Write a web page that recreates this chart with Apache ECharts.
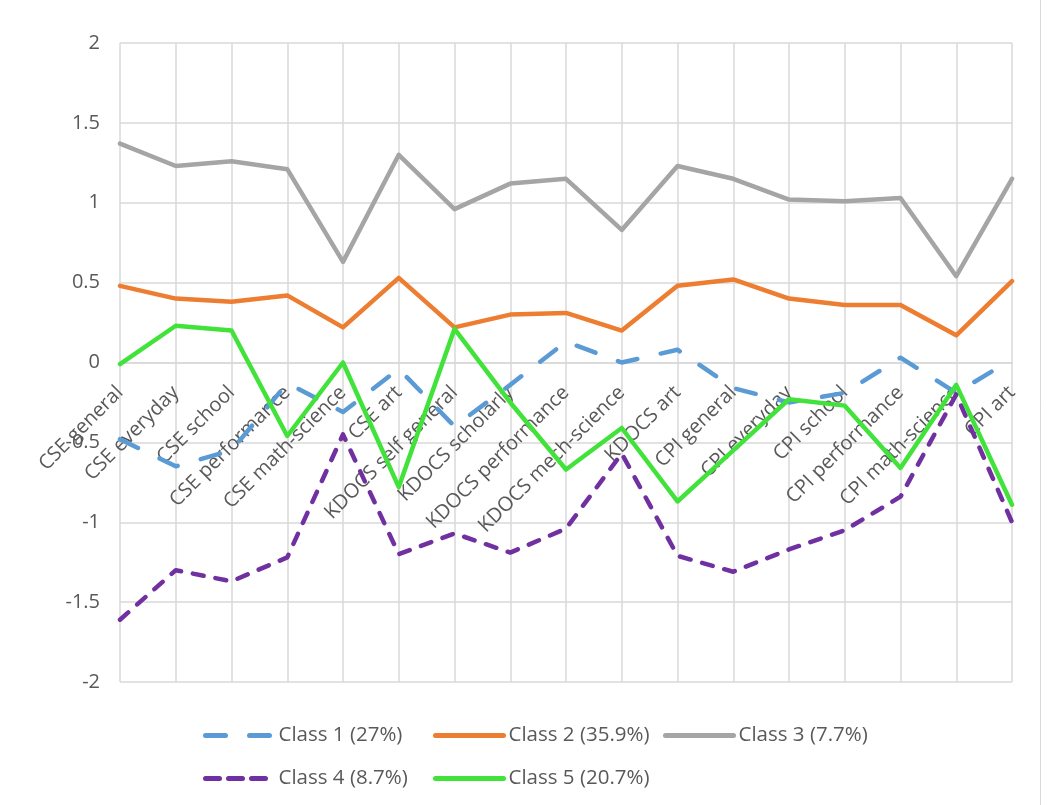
<!DOCTYPE html>
<html>
<head>
<meta charset="utf-8">
<script src="https://cdn.jsdelivr.net/npm/echarts@6/dist/echarts.min.js"></script>
<style>
html,body{margin:0;padding:0;background:#fff;}
#chart{width:1047px;height:805px;}
</style>
</head>
<body>
<div id="chart"></div>
<script>
const categories = ['CSE general','CSE everyday','CSE school','CSE performance','CSE math-science','CSE art','KDOCS self general','KDOCS scholarly','KDOCS performance','KDOCS mech-science','KDOCS art','CPI general','CPI everyday','CPI school','CPI performance','CPI math-science','CPI art'];
const seriesNames = ['Class 1 (27%)','Class 2 (35.9%)','Class 3 (7.7%)','Class 4 (8.7%)','Class 5 (20.7%)'];
const class1 = [-0.48,-0.65,-0.55,-0.13,-0.31,-0.04,-0.40,-0.14,0.13,0.00,0.08,-0.16,-0.25,-0.19,0.03,-0.19,0.02];
const class2 = [0.48,0.40,0.38,0.42,0.22,0.53,0.22,0.30,0.31,0.20,0.48,0.52,0.40,0.36,0.36,0.17,0.51];
const class3 = [1.37,1.23,1.26,1.21,0.63,1.30,0.96,1.12,1.15,0.83,1.23,1.15,1.02,1.01,1.03,0.54,1.15];
const class4 = [-1.61,-1.30,-1.37,-1.22,-0.45,-1.20,-1.07,-1.19,-1.04,-0.57,-1.21,-1.31,-1.17,-1.05,-0.84,-0.20,-1.00];
const class5 = [-0.01,0.23,0.20,-0.46,0.00,-0.78,0.21,-0.25,-0.67,-0.41,-0.87,-0.55,-0.23,-0.27,-0.66,-0.14,-0.89];

const colors = ['#5B9BD5','#ED7D31','#A5A5A5','#7030A0','#41E33A'];
const dashes = [[20,24],'solid','solid',[11,12],'solid'];
const legendDashes = [[20,24],'solid','solid',[14,9],'solid'];
const allData = [class1,class2,class3,class4,class5];

const chart = echarts.init(document.getElementById('chart'));
const labelColor = '#595959';
const legendPos = [[198,720],[428,720],[658,720],[198,763],[428,763]];
const legends = seriesNames.map((n, i) => ({
  data: [n], left: legendPos[i][0], top: legendPos[i][1],
  itemWidth: 68, itemHeight: 20,
  itemStyle: {opacity: 0, borderWidth: 0},
  lineStyle: {width: 5, type: legendDashes[i], cap: 'round'},
  textStyle: {color: labelColor, fontFamily: 'Open Sans', fontSize: 20.5}
}));
const gridTop = 43, gridHeight = 639;
chart.setOption({
  animation: false,
  backgroundColor: '#fff',
  grid: {left: 120, right: 35, top: gridTop, height: gridHeight, containLabel: false, outerBoundsMode: 'none'},
  legend: legends,
  graphic: [{type: 'line', shape: {x1: 1040.5, y1: 0, x2: 1040.5, y2: 805}, style: {stroke: '#d9d9d9', lineWidth: 1}}],
  xAxis: {
    type: 'category', data: categories, boundaryGap: false,
    offset: -gridHeight / 2,
    axisLine: {show: true, onZero: false, lineStyle: {color: '#d9d9d9', width: 1.5}},
    axisTick: {show: false},
    splitLine: {show: true, lineStyle: {color: '#d9d9d9', width: 1.5}},
    axisLabel: {interval: 0, rotate: 45, margin: 27, color: labelColor, fontFamily: 'Open Sans', fontSize: 20}
  },
  yAxis: {
    type: 'value', min: -2, max: 2, interval: 0.5,
    axisLine: {show: false}, axisTick: {show: false},
    splitLine: {lineStyle: {color: '#d9d9d9', width: 1.5}},
    axisLabel: {margin: 20, color: labelColor, fontFamily: 'Open Sans', fontSize: 20}
  },
  series: allData.map((d, i) => ({
    name: seriesNames[i], type: 'line', data: d, symbol: 'none',
    color: colors[i],
    lineStyle: {color: colors[i], width: 4.5, type: dashes[i], cap: 'round', join: 'round'}
  }))
});
</script>
</body>
</html>
